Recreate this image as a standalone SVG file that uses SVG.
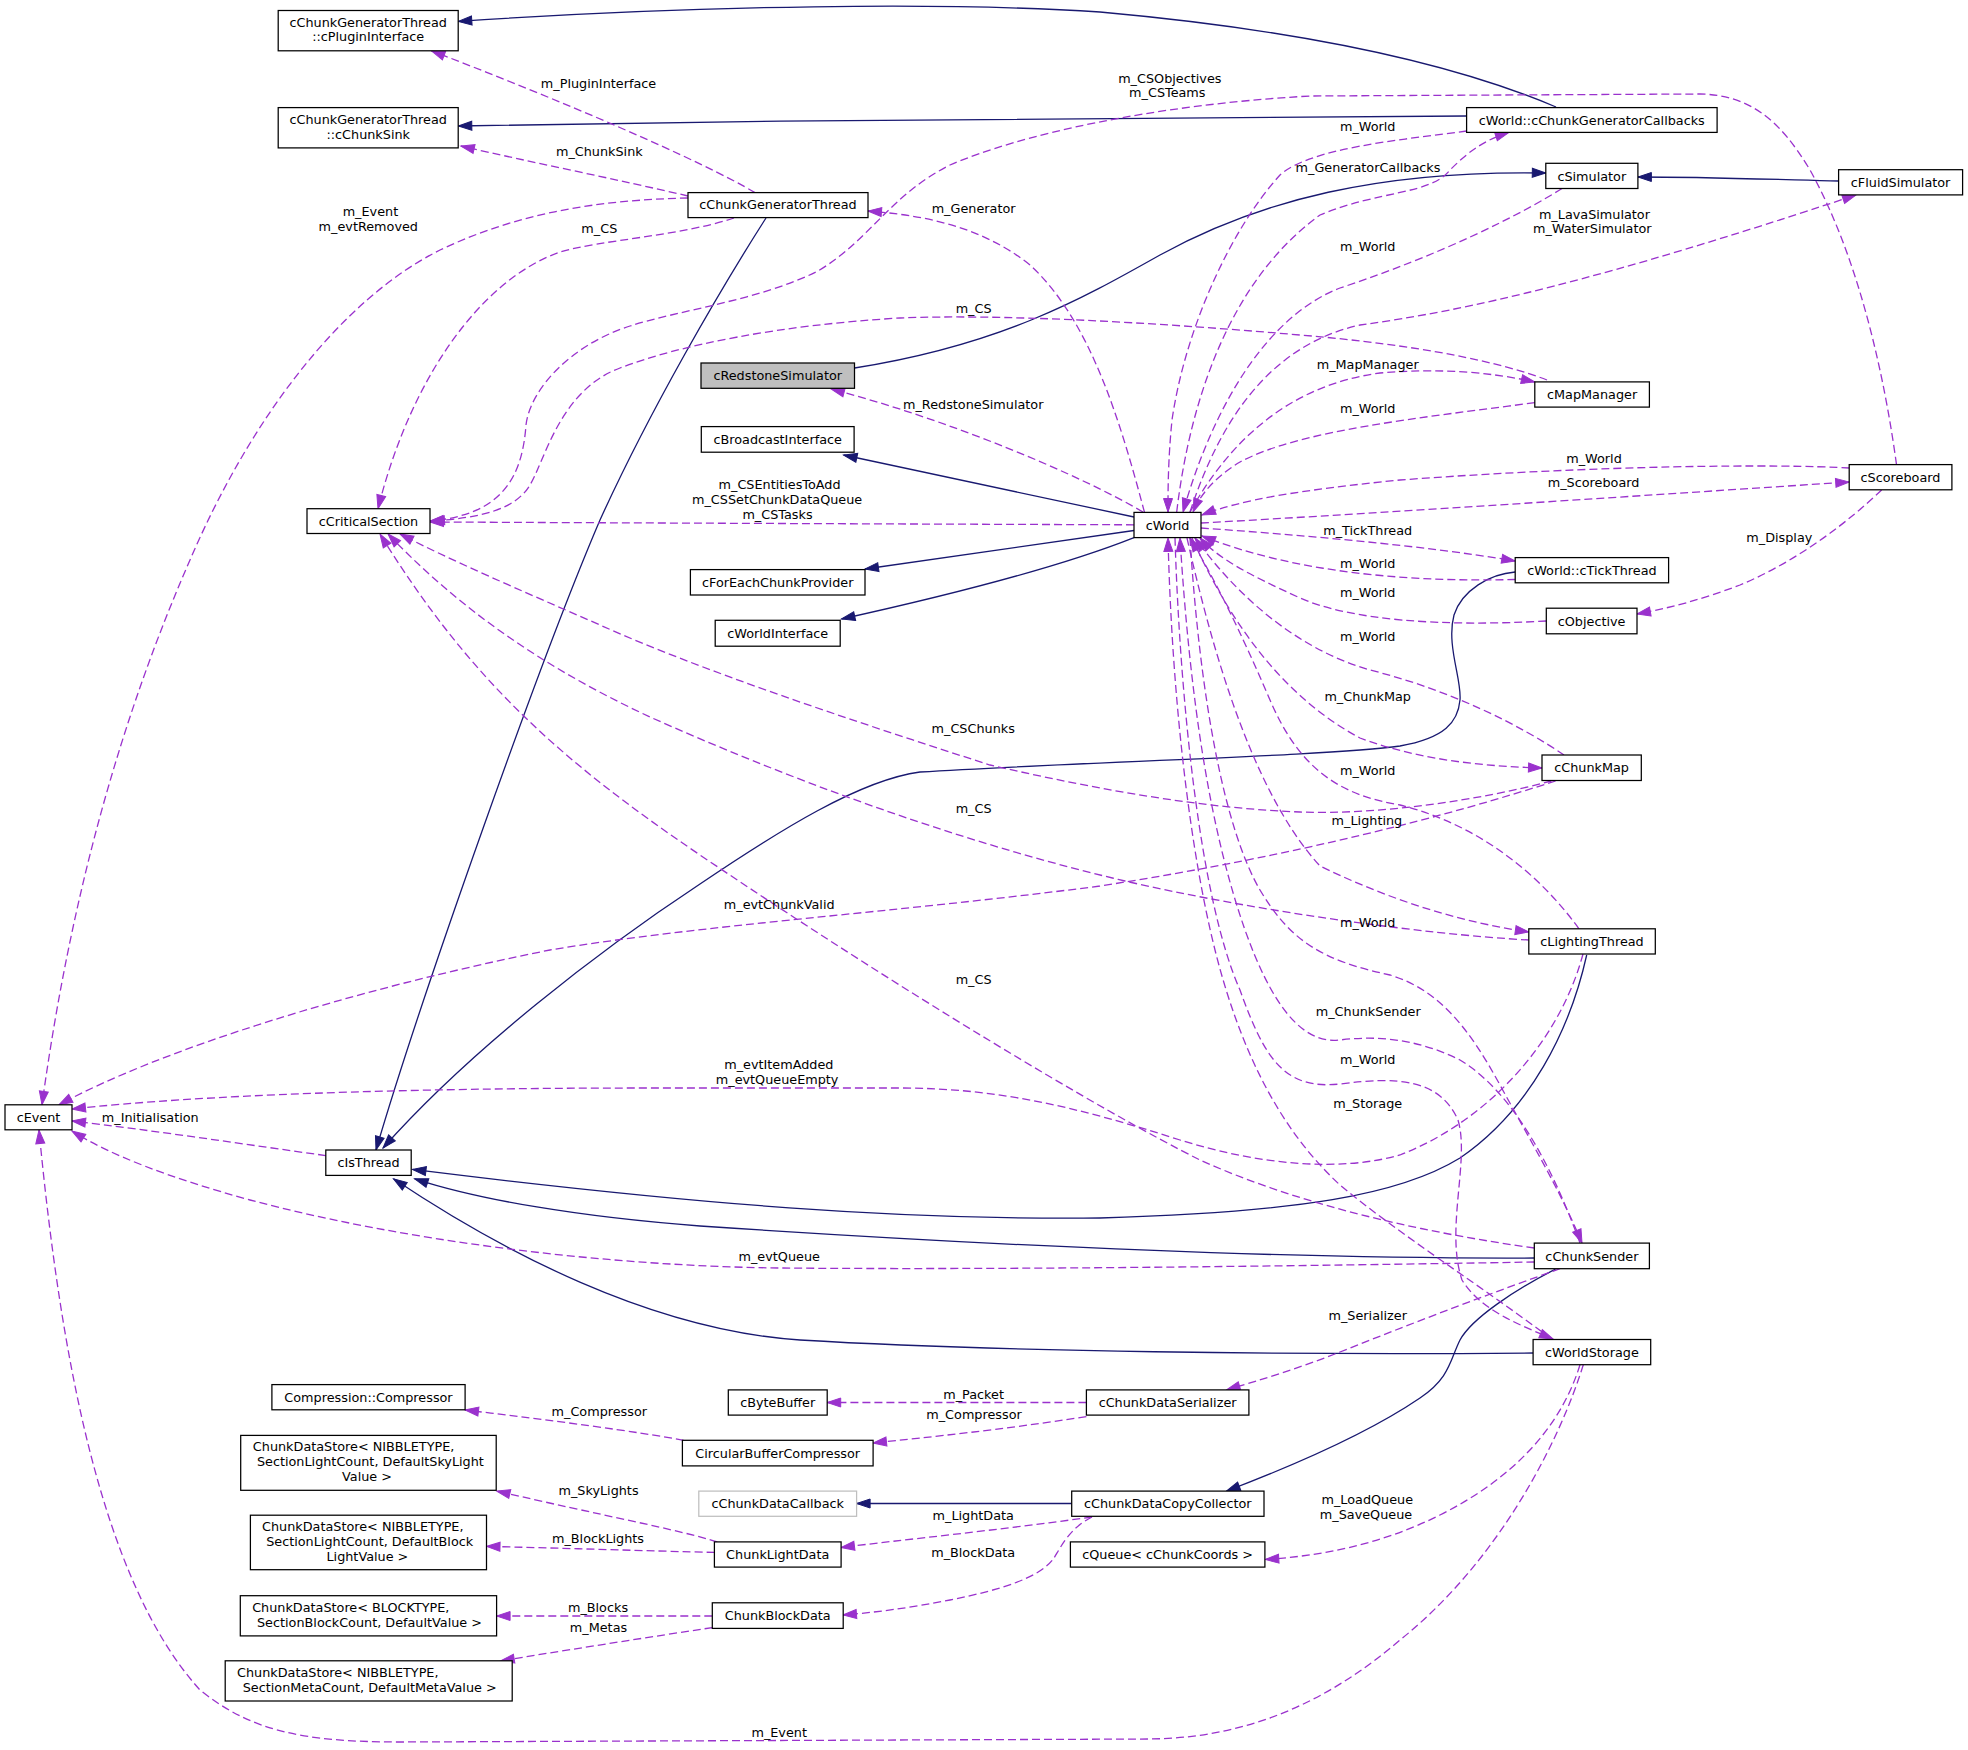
<svg xmlns="http://www.w3.org/2000/svg" width="1968" height="1750" viewBox="0 0 1968 1750">
<defs>
<style>
.n rect{fill:#fff;stroke:#000;stroke-width:1.25}
.n rect.root{fill:#bfbfbf}
.n rect.ext{stroke:#bfbfbf}
text{font-family:"DejaVu Sans","Liberation Sans",sans-serif;font-size:12.8px;fill:#000;text-anchor:middle}
.inh{fill:none;stroke:#191970;stroke-width:1.3;marker-end:url(#ai)}
.use{fill:none;stroke:#9a32cd;stroke-width:1.3;stroke-dasharray:8,4;marker-end:url(#au)}
</style>
<marker id="ai" markerUnits="userSpaceOnUse" markerWidth="14" markerHeight="10" refX="13.5" refY="4.5" orient="auto" overflow="visible"><path d="M0,0 L13.5,4.5 L0,9 Z" fill="#191970" stroke="#191970" stroke-width="1"/></marker>
<marker id="au" markerUnits="userSpaceOnUse" markerWidth="14" markerHeight="10" refX="13.5" refY="4.5" orient="auto" overflow="visible"><path d="M0,0 L13.5,4.5 L0,9 Z" fill="#9a32cd" stroke="#9a32cd" stroke-width="1"/></marker>
</defs>
<rect x="0" y="0" width="1968" height="1750" fill="#fff"/>
<g id="connectors">
<path class="inh" d="M1556,107 C1450,62 1300,30 1100,12 C950,2 700,5 458.3,21.4"/>
<path class="inh" d="M1466.6,116 C1200,116 800,120 458.3,126"/>
<path class="inh" d="M766,218 C720,290 650,410 600,520 C540,660 420,1000 376,1150"/>
<path class="inh" d="M854.5,368 C1000,345 1080,300 1160,255 C1260,200 1380,170 1545.8,173"/>
<path class="inh" d="M1838.6,181 C1760,179 1700,177 1637.9,177"/>
<path class="inh" d="M1134,517 L843.6,455"/>
<path class="inh" d="M1134,530.5 L865,569"/>
<path class="inh" d="M1134,537.6 C1060,567 950,595 841.5,619"/>
<path class="inh" d="M1515.2,572 C1490,574 1462,590 1454,615 C1446,645 1462,680 1460,700 C1458,722 1445,738 1400,746 C1330,756 1080,762 920,772 C860,780 780,830 700,884 C600,950 470,1050 383,1148"/>
<path class="inh" d="M1586.7,955 C1570,1030 1530,1110 1460,1158 C1400,1195 1300,1212 1100,1218 C900,1220 700,1205 412.5,1169.4"/>
<path class="inh" d="M1534.3,1258 C1300,1259 1000,1246 700,1226 C580,1217 480,1200 414.6,1178.8"/>
<path class="inh" d="M1533.1,1353 C1300,1355 1000,1352 800,1340 C650,1330 500,1250 393.5,1178.8"/>
<path class="inh" d="M1555.6,1269 C1515,1290 1472,1318 1460,1340 C1450,1360 1450,1378 1420,1398 C1370,1432 1300,1463 1226.6,1491"/>
<path class="inh" d="M1071.7,1503.5 L856.6,1503.5"/>

<path class="use" d="M755,192.6 C700,160 560,100 431.4,50.8"/>
<path class="use" d="M688,196 C620,180 530,162 460.9,146"/>
<path class="use" d="M688,198 C600,200 520,212 440,250 C340,300 250,420 190,560 C120,720 70,900 42,1104.8"/>
<path class="use" d="M734,218 C680,236 600,240 560,252 C480,280 410,380 378,508.7"/>
<path class="use" d="M1144.5,512.4 C1120,420 1090,320 1030,265 C980,225 920,215 868,211"/>
<path class="use" d="M1896.5,464.6 C1885,380 1860,260 1810,170 C1780,120 1750,95 1700,94 L1310,96 C1150,105 1020,135 950,165 C890,195 870,240 818,271 C760,300 680,310 630,326 C570,345 530,390 526,425 C522,480 500,515 430,521"/>
<path class="use" d="M1547,380 C1500,362 1420,345 1300,335 C1150,322 1000,314 900,318 C780,325 680,345 620,368 C560,390 545,460 530,485 C515,510 480,518 431,521"/>
<path class="use" d="M1134,524.8 C900,524 650,523 430,522"/>
<path class="use" d="M1551.4,781 C1480,800 1380,815 1300,812 C1200,808 1100,790 990,765 C850,720 700,670 600,625 C520,590 450,560 400,534"/>
<path class="use" d="M1528.8,940 C1420,934 1250,910 1125,881 C950,840 780,775 650,717 C560,675 470,620 388,534"/>
<path class="use" d="M1534.3,1248 C1420,1232 1300,1205 1200,1160 C1100,1110 900,990 700,855 C560,760 470,680 380,534"/>
<path class="use" d="M1143,512 C1080,475 950,420 831,389"/>
<path class="use" d="M1466.6,131 C1400,140 1310,148 1280,175 C1230,230 1185,330 1172,420 C1168,460 1168,490 1168,512"/>
<path class="use" d="M1176.7,512 C1190,400 1230,280 1320,215 C1380,190 1430,195 1450,170 C1470,150 1485,140 1508.8,132.4"/>
<path class="use" d="M1562,188.5 C1520,215 1440,255 1340,288 C1270,315 1215,400 1183,512"/>
<path class="use" d="M1190,512 C1220,420 1270,345 1360,325 C1470,310 1600,280 1856,195"/>
<path class="use" d="M1190,512 C1230,440 1290,385 1380,373 C1440,368 1490,372 1534.8,382"/>
<path class="use" d="M1534.8,402.6 C1420,418 1300,430 1240,462 C1215,477 1200,495 1193,512"/>
<path class="use" d="M1849.2,468 C1780,464 1600,465 1400,480 C1300,490 1240,500 1202,515"/>
<path class="use" d="M1201,523 C1400,512 1650,495 1849.2,482"/>
<path class="use" d="M1201,528 C1300,535 1420,545 1515.2,561"/>
<path class="use" d="M1515.2,579.5 C1420,582 1300,575 1202,536"/>
<path class="use" d="M1546.3,621 C1440,627 1350,620 1300,598 C1250,575 1220,560 1200,538"/>
<path class="use" d="M1564,755 C1520,725 1450,690 1370,670 C1300,650 1240,600 1195,538"/>
<path class="use" d="M1192,538 C1220,600 1270,690 1360,738 C1420,760 1480,766 1542,768"/>
<path class="use" d="M1579,928.8 C1540,875 1480,825 1400,805 C1340,795 1300,770 1270,700 C1240,630 1215,580 1190,538"/>
<path class="use" d="M1187,538 C1210,640 1250,790 1320,866 C1390,900 1460,922 1528.8,932"/>
<path class="use" d="M1190,538 C1200,700 1225,830 1260,890 C1290,940 1320,960 1390,975 C1440,990 1470,1030 1500,1085 C1530,1140 1560,1190 1582,1243"/>
<path class="use" d="M1580,1243 C1550,1160 1510,1090 1460,1060 C1420,1040 1380,1035 1340,1040 C1300,1045 1270,1000 1245,930 C1210,830 1190,700 1180,538"/>
<path class="use" d="M1175,538 C1180,700 1200,900 1240,990 C1265,1060 1285,1090 1340,1084 C1400,1076 1440,1080 1458,1120 C1470,1160 1445,1230 1462,1280 C1480,1310 1520,1325 1553,1339"/>
<path class="use" d="M1551.4,1339 C1480,1285 1400,1235 1340,1185 C1280,1130 1240,1050 1215,950 C1190,850 1172,700 1168,538"/>
<path class="use" d="M1555.6,781 C1450,815 1300,855 1100,886 C900,912 700,925 550,950 C350,990 160,1050 59,1104.8"/>
<path class="use" d="M1583,954 C1560,1040 1490,1120 1400,1155 C1340,1172 1260,1165 1180,1140 C1080,1108 1000,1088 900,1088 L650,1088 C400,1088 200,1095 72,1109"/>
<path class="use" d="M1881.6,490 C1850,520 1800,560 1740,585 C1700,600 1670,608 1637,613.9"/>
<path class="use" d="M1534.3,1262 C1300,1266 1000,1270 780,1268 C600,1266 400,1240 250,1200 C170,1178 110,1155 72,1131"/>
<path class="use" d="M1583.3,1364.7 C1560,1440 1500,1560 1400,1640 C1330,1700 1250,1738 1150,1739 L400,1742 C300,1742 250,1730 200,1690 C100,1580 60,1350 39,1130"/>
<path class="use" d="M1580,1364.7 C1560,1430 1510,1480 1440,1515 C1380,1545 1320,1556 1265.3,1559.5"/>
<path class="use" d="M1560,1268.7 C1500,1290 1420,1320 1340,1352 C1300,1368 1260,1380 1226.6,1389.9"/>
<path class="use" d="M1086.4,1402.5 L827.2,1402.5"/>
<path class="use" d="M1086.4,1416.6 C1000,1430 930,1437 873,1443"/>
<path class="use" d="M683.7,1440.3 C640,1432 550,1420 465,1410"/>
<path class="use" d="M1092,1517 C1000,1530 900,1540 841,1547.5"/>
<path class="use" d="M1092,1517 C1070,1528 1062,1545 1054,1558 C1040,1578 1000,1590 950,1600 C910,1608 870,1613 843,1615"/>
<path class="use" d="M717.3,1541.9 C680,1530 600,1515 496.6,1491"/>
<path class="use" d="M714.4,1552.4 C650,1551 560,1548 486.5,1546.4"/>
<path class="use" d="M712.3,1616 L496.6,1616"/>
<path class="use" d="M712.3,1627.6 C650,1637 580,1648 500.8,1660.8"/>
<path class="use" d="M325.8,1155.6 C250,1145 150,1130 72,1121"/>
</g>
<g id="edge-labels">
<text x="598.5" y="88.1">m_PluginInterface</text>
<text x="599.3" y="155.8">m_ChunkSink</text>
<text x="370.4" y="216">m_Event</text>
<text x="368.3" y="231.1">m_evtRemoved</text>
<text x="599.3" y="233">m_CS</text>
<text x="1169.8" y="83.2">m_CSObjectives</text>
<text x="1167.3" y="97.2">m_CSTeams</text>
<text x="973.6" y="213">m_Generator</text>
<text x="973.6" y="313.1">m_CS</text>
<text x="973.2" y="409">m_RedstoneSimulator</text>
<text x="779.6" y="488.8">m_CSEntitiesToAdd</text>
<text x="777.1" y="503.8">m_CSSetChunkDataQueue</text>
<text x="777.5" y="518.9">m_CSTasks</text>
<text x="1367.7" y="130.6">m_World</text>
<text x="1368" y="172">m_GeneratorCallbacks</text>
<text x="1594.4" y="219">m_LavaSimulator</text>
<text x="1592.3" y="233">m_WaterSimulator</text>
<text x="1367.7" y="251">m_World</text>
<text x="1367.7" y="369.2">m_MapManager</text>
<text x="1367.7" y="412.8">m_World</text>
<text x="1594" y="462.8">m_World</text>
<text x="1593.6" y="486.6">m_Scoreboard</text>
<text x="1367.7" y="535.1">m_TickThread</text>
<text x="1367.7" y="567.8">m_World</text>
<text x="1779.3" y="541.5">m_Display</text>
<text x="1367.7" y="596.6">m_World</text>
<text x="1367.7" y="641">m_World</text>
<text x="1367.7" y="701.2">m_ChunkMap</text>
<text x="973.2" y="733.2">m_CSChunks</text>
<text x="1367.7" y="775">m_World</text>
<text x="973.6" y="813.3">m_CS</text>
<text x="1366.9" y="825.4">m_Lighting</text>
<text x="779.2" y="908.9">m_evtChunkValid</text>
<text x="1367.7" y="927">m_World</text>
<text x="973.6" y="984.1">m_CS</text>
<text x="1368.2" y="1016.1">m_ChunkSender</text>
<text x="1367.7" y="1063.6">m_World</text>
<text x="778.8" y="1068.8">m_evtItemAdded</text>
<text x="777.1" y="1084.2">m_evtQueueEmpty</text>
<text x="1367.7" y="1107.6">m_Storage</text>
<text x="150.3" y="1121.5">m_Initialisation</text>
<text x="779.2" y="1261.3">m_evtQueue</text>
<text x="1367.7" y="1320">m_Serializer</text>
<text x="973.6" y="1399">m_Packet</text>
<text x="974" y="1419.3">m_Compressor</text>
<text x="599.3" y="1416.3">m_Compressor</text>
<text x="598.5" y="1494.9">m_SkyLights</text>
<text x="1367.3" y="1504">m_LoadQueue</text>
<text x="1366" y="1519">m_SaveQueue</text>
<text x="973.2" y="1520.1">m_LightData</text>
<text x="598" y="1542.7">m_BlockLights</text>
<text x="973.2" y="1557">m_BlockData</text>
<text x="598" y="1612.3">m_Blocks</text>
<text x="598.5" y="1632.2">m_Metas</text>
<text x="779.2" y="1736.5">m_Event</text>
</g>
<g id="nodes">
<g id="node-cPluginInterface" class="n"><rect x="278.2" y="10.5" width="180" height="40.3"/><text x="368.2" y="27.2">cChunkGeneratorThread</text><text x="368.2" y="41.1">::cPluginInterface</text></g>
<g id="node-cChunkSink" class="n"><rect x="278.2" y="107.6" width="180" height="40.3"/><text x="368.2" y="123.9">cChunkGeneratorThread</text><text x="368.2" y="138.5">::cChunkSink</text></g>
<g id="node-cCriticalSection" class="n"><rect x="307" y="508.7" width="123" height="24.8"/><text x="368.5" y="525.6">cCriticalSection</text></g>
<g id="node-cEvent" class="n"><rect x="5" y="1104.8" width="67" height="25"/><text x="38.5" y="1121.6">cEvent</text></g>
<g id="node-cIsThread" class="n"><rect x="325.8" y="1150" width="85.4" height="25.4"/><text x="368.5" y="1167.3">cIsThread</text></g>
<g id="node-cChunkGeneratorThread" class="n"><rect x="688" y="192.6" width="180" height="25"/><text x="778" y="209.2">cChunkGeneratorThread</text></g>
<g id="node-cRedstoneSimulator" class="n"><rect class="root" x="701" y="363" width="153.5" height="25.3"/><text x="777.7" y="380.2">cRedstoneSimulator</text></g>
<g id="node-cBroadcastInterface" class="n"><rect x="701.3" y="426.6" width="152.8" height="25.6"/><text x="777.7" y="444">cBroadcastInterface</text></g>
<g id="node-cForEachChunkProvider" class="n"><rect x="690.4" y="569.6" width="174.6" height="25.4"/><text x="777.7" y="586.9">cForEachChunkProvider</text></g>
<g id="node-cWorldInterface" class="n"><rect x="715.2" y="620.3" width="125" height="25.9"/><text x="777.7" y="637.8">cWorldInterface</text></g>
<g id="node-cWorld" class="n"><rect x="1134" y="512.4" width="67" height="25.2"/><text x="1167.5" y="529.6">cWorld</text></g>
<g id="node-cChunkGeneratorCallbacks" class="n"><rect x="1466.6" y="107.6" width="250.5" height="24.8"/><text x="1591.8" y="124.6">cWorld::cChunkGeneratorCallbacks</text></g>
<g id="node-cSimulator" class="n"><rect x="1545.8" y="163.3" width="92.1" height="25.2"/><text x="1591.8" y="180.5">cSimulator</text></g>
<g id="node-cFluidSimulator" class="n"><rect x="1838.6" y="169.7" width="124" height="25.2"/><text x="1900.6" y="186.9">cFluidSimulator</text></g>
<g id="node-cMapManager" class="n"><rect x="1534.8" y="381.9" width="114.6" height="25.2"/><text x="1592.1" y="399.1">cMapManager</text></g>
<g id="node-cScoreboard" class="n"><rect x="1849.2" y="464.6" width="102.7" height="25.2"/><text x="1900.5" y="481.8">cScoreboard</text></g>
<g id="node-cTickThread" class="n"><rect x="1515.2" y="557.6" width="153.4" height="25.2"/><text x="1591.9" y="574.8">cWorld::cTickThread</text></g>
<g id="node-cObjective" class="n"><rect x="1546.3" y="608.2" width="90.7" height="25.6"/><text x="1591.6" y="625.6">cObjective</text></g>
<g id="node-cChunkMap" class="n"><rect x="1542" y="755" width="99.3" height="25.5"/><text x="1591.6" y="772.4">cChunkMap</text></g>
<g id="node-cLightingThread" class="n"><rect x="1528.8" y="928.8" width="126.5" height="25.2"/><text x="1592" y="946">cLightingThread</text></g>
<g id="node-cChunkSender" class="n"><rect x="1534.3" y="1243.1" width="115.1" height="25.6"/><text x="1591.9" y="1260.5">cChunkSender</text></g>
<g id="node-cWorldStorage" class="n"><rect x="1533.1" y="1339.5" width="117.6" height="25.2"/><text x="1591.9" y="1356.7">cWorldStorage</text></g>
<g id="node-Compressor" class="n"><rect x="271.9" y="1384.6" width="193.2" height="25.2"/><text x="368.5" y="1401.8">Compression::Compressor</text></g>
<g id="node-StoreSkyLight" class="n"><rect x="240.7" y="1435.4" width="255.5" height="54.9"/><text x="353.6" y="1451.3">ChunkDataStore&lt; NIBBLETYPE,</text><text x="370.4" y="1466">SectionLightCount, DefaultSkyLight</text><text x="367" y="1480.6">Value &gt;</text></g>
<g id="node-StoreBlockLight" class="n"><rect x="250.4" y="1515.2" width="236.1" height="54.5"/><text x="362.8" y="1531">ChunkDataStore&lt; NIBBLETYPE,</text><text x="369.7" y="1545.7">SectionLightCount, DefaultBlock</text><text x="367.4" y="1560.7">LightValue &gt;</text></g>
<g id="node-StoreBlocks" class="n"><rect x="240.3" y="1595.7" width="256.3" height="40.2"/><text x="350.8" y="1611.9">ChunkDataStore&lt; BLOCKTYPE,</text><text x="369.5" y="1626.6">SectionBlockCount, DefaultValue &gt;</text></g>
<g id="node-StoreMetas" class="n"><rect x="225.2" y="1660.8" width="287" height="40.2"/><text x="337.8" y="1677">ChunkDataStore&lt; NIBBLETYPE,</text><text x="369.7" y="1692.1">SectionMetaCount, DefaultMetaValue &gt;</text></g>
<g id="node-cByteBuffer" class="n"><rect x="728.3" y="1389.9" width="98.9" height="25.2"/><text x="777.7" y="1407.1">cByteBuffer</text></g>
<g id="node-cChunkDataSerializer" class="n"><rect x="1086.4" y="1389.9" width="162.5" height="25.2"/><text x="1167.6" y="1407.1">cChunkDataSerializer</text></g>
<g id="node-CircularBufferCompressor" class="n"><rect x="682.4" y="1440.3" width="190.7" height="25.6"/><text x="777.7" y="1457.7">CircularBufferCompressor</text></g>
<g id="node-cChunkDataCallback" class="n"><rect class="ext" x="698.8" y="1491.1" width="157.8" height="25.2"/><text x="777.7" y="1508.3">cChunkDataCallback</text></g>
<g id="node-cChunkDataCopyCollector" class="n"><rect x="1071.7" y="1491.1" width="192.3" height="25.2"/><text x="1167.8" y="1508.3">cChunkDataCopyCollector</text></g>
<g id="node-ChunkLightData" class="n"><rect x="714.4" y="1541.9" width="126.7" height="25.2"/><text x="777.7" y="1559.1">ChunkLightData</text></g>
<g id="node-cQueue" class="n"><rect x="1070.4" y="1541.9" width="194.5" height="25.2"/><text x="1167.6" y="1559.1">cQueue&lt; cChunkCoords &gt;</text></g>
<g id="node-ChunkBlockData" class="n"><rect x="712.3" y="1602.8" width="130.9" height="25.6"/><text x="777.7" y="1620.2">ChunkBlockData</text></g>
</g>
</svg>
